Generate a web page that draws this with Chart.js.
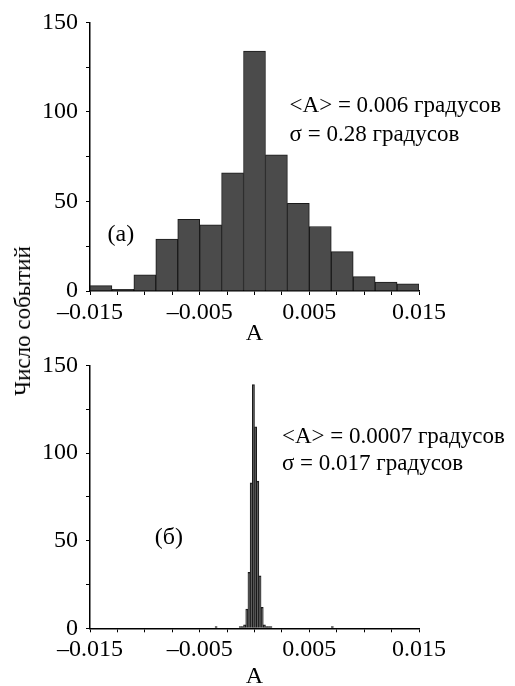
<!DOCTYPE html>
<html>
<head>
<meta charset="utf-8">
<script src="https://cdn.jsdelivr.net/npm/chart.js@4.4.1/dist/chart.umd.min.js"></script>
<style>
    html, body { margin: 0; padding: 0; background: #fff; }
    #wrap { position: relative; width: 515px; height: 686px; overflow: hidden; }
    .panel { position: absolute; left: 0; width: 515px; height: 343px; }
    #ytitle {
        position: absolute; left: 23px; top: 321px;
        transform: translate(-50%, -50%) rotate(-90deg);
        font: 23px "Liberation Serif", "Times New Roman", serif;
        white-space: nowrap; color: #000;
    }
</style>
</head>
<body>
<div id="wrap">
    <div class="panel" style="top:0"><canvas id="chartA"></canvas></div>
    <div class="panel" style="top:343px"><canvas id="chartB"></canvas></div>
    <div id="ytitle">Число событий</div>
</div>
<script>
// Panel (а): bin centres and counts
const centersA = [-0.014, -0.012, -0.010, -0.008, -0.006, -0.004, -0.002, 0.000,
                  0.002, 0.004, 0.006, 0.008, 0.010, 0.012, 0.014];
const countsA = [3, 1, 9, 29, 40, 37, 66, 134, 76, 49, 36, 22, 8, 5, 4];

// Panel (б): bin centres and counts
const centersB = [-0.0035, -0.0013, -0.0011, -0.0009, -0.0007, -0.0005, -0.0003, -0.0001,
                  0.0001, 0.0003, 0.0005, 0.0007, 0.0009, 0.0011, 0.0013, 0.0015, 0.0071];
const countsB = [1, 1, 1, 2, 11, 32, 83, 139, 115, 84, 30, 12, 2, 1, 1, 1, 1];

// Tick labels
const xTickLabels = [-0.015, -0.005, 0.005, 0.015];
const yTickLabels = [0, 50, 100, 150];

const SERIF = '"Liberation Serif", "Times New Roman", serif';
Chart.defaults.font.family = SERIF;
Chart.defaults.font.size = 24;
Chart.defaults.color = '#000';

// draws the text notes at data coordinates
const notesPlugin = {
    id: 'notes',
    afterDraw(chart, args, opts) {
        const { ctx, scales: { x, y } } = chart;
        ctx.save();
        ctx.fillStyle = '#000';
        ctx.textBaseline = 'alphabetic';
        (opts.items || []).forEach(n => {
            ctx.font = (n.size || 23) + 'px ' + SERIF;
            ctx.fillText(n.text, x.getPixelForValue(n.x), y.getPixelForValue(n.y));
        });
        ctx.restore();
    }
};

function xLabel(v) {
    const hit = xTickLabels.find(t => Math.abs(t - v) < 1e-9);
    if (hit === undefined) return '';
    return (hit < 0 ? '\u2013' : '') + Math.abs(hit).toFixed(3);
}

function makeHistogram(id, centers, counts, padTop, xHeight, notes) {
    return new Chart(document.getElementById(id), {
        type: 'bar',
        data: {
            datasets: [{
                data: centers.map((c, i) => ({ x: c, y: counts[i] })),
                backgroundColor: '#4b4b4b',
                borderColor: '#1a1a1a',
                borderWidth: 1,
                barPercentage: 1,
                categoryPercentage: 1
            }]
        },
        options: {
            responsive: true,
            maintainAspectRatio: false,
            animation: false,
            layout: { padding: { top: padTop, right: 96, left: 0, bottom: 0 } },
            plugins: {
                legend: { display: false },
                tooltip: { enabled: false },
                notes: { items: notes }
            },
            scales: {
                x: {
                    type: 'linear',
                    min: -0.015,
                    max: 0.015,
                    offset: false,
                    afterFit: s => { s.height = xHeight; },
                    grid: { offset: false, drawOnChartArea: false, tickLength: 4, color: '#000' },
                    border: { color: '#000', width: 1.5 },
                    ticks: { stepSize: 0.0025, autoSkip: false, maxRotation: 0, padding: 3, callback: xLabel },
                    title: { display: true, text: 'A', padding: { top: 0, bottom: -3 }, font: { size: 24, lineHeight: 1 } }
                },
                y: {
                    min: 0,
                    max: 150,
                    afterFit: s => { s.width = 90; },
                    grid: { drawOnChartArea: false, tickLength: 4, color: '#000' },
                    border: { color: '#000', width: 1.5 },
                    ticks: { stepSize: 25, padding: 8, callback: v => yTickLabels.includes(v) ? String(v) : '' }
                }
            }
        },
        plugins: [notesPlugin]
    });
}

makeHistogram('chartA', centersA, countsA, 17, 52, [
    { text: '<A> = 0.006 градусов', x: 0.0032, y: 100 },
    { text: '\u03c3 = 0.28 градусов', x: 0.0032, y: 84 },
    { text: '(а)', x: -0.0134, y: 28, size: 24 }
]);

makeHistogram('chartB', centersB, countsB, 11, 57.7, [
    { text: '<A> = 0.0007 градусов', x: 0.0025, y: 106 },
    { text: '\u03c3 = 0.017 градусов', x: 0.0025, y: 90.5 },
    { text: '(б)', x: -0.0091, y: 48, size: 24 }
]);
</script>
</body>
</html>
